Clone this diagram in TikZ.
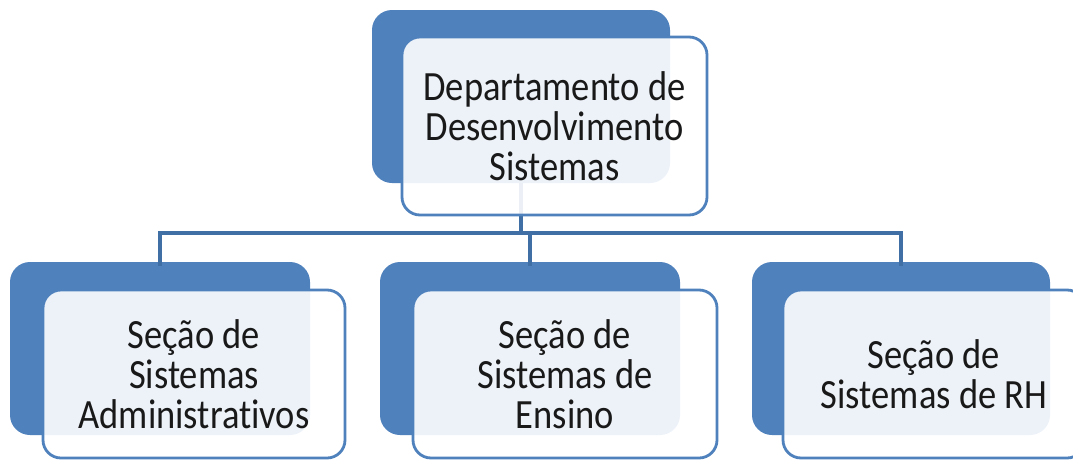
\documentclass[tikz,border=0pt]{standalone}
\usepackage{fontspec}
\setmainfont{Carlito}[Ligatures={NoCommon}]
\usepackage{graphicx}
\definecolor{boxblue}{HTML}{4F81BD}
\definecolor{linkblue}{HTML}{3F6FA5}
\newcommand\boxtext[1]{\raisebox{-6pt}[\height][\depth]{\scalebox{1}[1.14]{\begin{tabular}{@{}c@{}}#1\end{tabular}}}}
\begin{document}
\begin{tikzpicture}[x=1pt,y=-1pt,
  backbox/.style={fill=boxblue, draw=none, rounded corners=20pt, minimum width=#1, minimum height=173pt, inner sep=0pt},
  frontbox/.style={fill=white, fill opacity=0.9, text opacity=1, draw=boxblue, line width=2.8pt, rounded corners=18pt, minimum width=#1, inner sep=0pt, text=black!90, font=\fontsize{36.5}{32.8}\selectfont},
  link/.style={draw=linkblue, line width=4pt}]
\useasboundingbox[fill=white] (0,0) rectangle (1073,461);
% back boxes
\node[backbox=298pt] (topback) at (521,96.5) {};
\node[backbox=300pt] (leftback) at (160,348.5) {};
\node[backbox=300pt] (midback) at (530,348.5) {};
\node[backbox=298pt] (rightback) at (901,348.5) {};
% connectors
\coordinate (bus) at (0,233);
\draw[link] (topback.south) -- (topback.south |- bus) -| ([yshift=-4pt]leftback.north);
\draw[link] (topback.south |- bus) -| ([yshift=-4pt]midback.north);
\draw[link] (topback.south |- bus) -| ([yshift=-4pt]rightback.north);
% front boxes
\node[frontbox=305pt, minimum height=178pt] (topfront) at (554.5,126) {\boxtext{Departamento de\\Desenvolvimento\\Sistemas}};
\node[frontbox=302pt, minimum height=168pt] (leftfront) at (194,374) {\boxtext{Seção de\\Sistemas\\Administrativos}};
\node[frontbox=304pt, minimum height=168pt] (midfront) at (565,374) {\boxtext{Seção de\\Sistemas de\\Ensino}};
\node[frontbox=302pt, minimum height=168pt] (rightfront) at (934,374) {\boxtext{Seção de\\Sistemas de RH}};
\end{tikzpicture}
\end{document}
